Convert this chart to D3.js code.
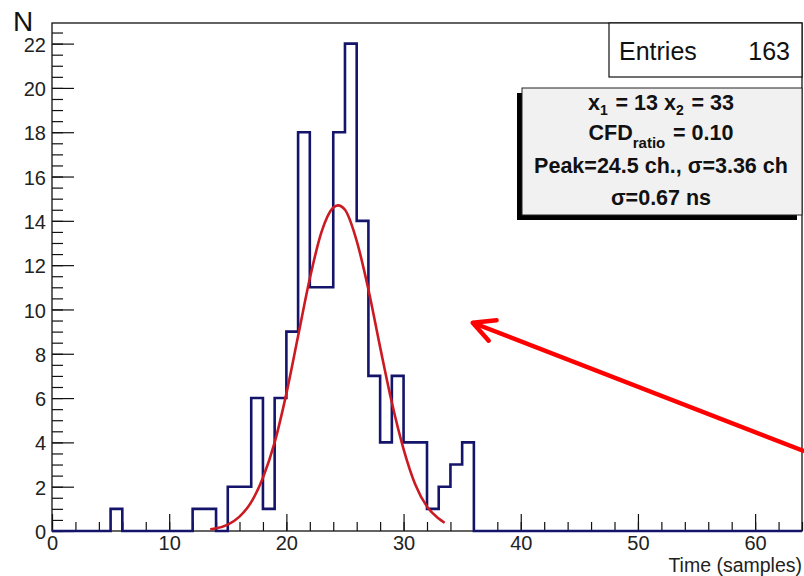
<!DOCTYPE html>
<html>
<head>
<meta charset="utf-8">
<script src="https://cdn.jsdelivr.net/npm/d3@7/dist/d3.min.js"></script>
<style>
  body { margin: 0; background: #fff; }
  svg { display: block; font-family: "Liberation Sans", Arial, Helvetica, sans-serif; }
</style>
</head>
<body>
<div id="chart"></div>
<script>
// histogram of CFD time, 1 sample per bin, 0..64
var binCounts = [0, 0, 0, 0, 0, 1, 0, 0, 0, 0,
                 0, 0, 1, 1, 0, 2, 2, 6, 1, 6,
                 9, 18, 11, 11, 18, 22, 14, 7, 4, 7,
                 4, 4, 1, 2, 3, 4, 0, 0, 0, 0,
                 0, 0, 0, 0, 0, 0, 0, 0, 0, 0,
                 0, 0, 0, 0, 0, 0, 0, 0, 0, 0,
                 0, 0, 0, 0];
var binStart = 0, binWidth = 1;

// gaussian fit curve
var fitX = [13.5, 14, 15, 16, 17, 18, 19, 20, 21, 22, 23, 24, 24.4, 25, 26, 27, 28, 29, 30, 31, 32, 33, 33.5];
var fitY = [0.08, 0.12, 0.29, 0.65, 1.3, 2.4, 4.0, 6.2, 8.8, 11.4, 13.5, 14.6, 14.7, 14.5, 13.1, 10.9, 8.3, 5.8, 3.7, 2.1, 1.1, 0.56, 0.37];

var xTicks = [0, 10, 20, 30, 40, 50, 60];
var yTicks = [0, 2, 4, 6, 8, 10, 12, 14, 16, 18, 20, 22];

var statsLines = ["x|1| = 13 x|2| = 33", "CFD|ratio| = 0.10", "Peak=24.5 ch., \u03c3=3.36 ch", "\u03c3=0.67 ns"];
var entries = 163;

// red annotation arrow, in data units (tail -> head)
var arrowTail = [64.2, 3.6], arrowHead = [35.9, 9.4];

var width = 804, height = 576;
var margin = {top: 23, right: 2, bottom: 45, left: 52};

var svg = d3.select("#chart").append("svg")
    .attr("width", width)
    .attr("height", height);

var x = d3.scaleLinear()
    .domain([0, 64])
    .range([margin.left, width - margin.right]);

var y = d3.scaleLinear()
    .domain([0, 22.93])
    .range([height - margin.bottom, margin.top]);

// minor ticks
svg.append("g")
    .attr("transform", "translate(0," + y(0) + ")")
    .call(d3.axisBottom(x).tickValues(d3.range(0, 64.1, 2)).tickSize(-9).tickSizeOuter(0).tickFormat(""))
    .call(g => g.select(".domain").remove());

svg.append("g")
    .attr("transform", "translate(" + x(0) + ",0)")
    .call(d3.axisLeft(y).tickValues(d3.range(0, 22.6, 0.5)).tickSize(-11).tickSizeOuter(0).tickFormat(""))
    .call(g => g.select(".domain").remove());

// major ticks + labels
var xAxis = svg.append("g")
    .attr("transform", "translate(0," + y(0) + ")")
    .call(d3.axisBottom(x).tickValues(xTicks).tickSize(-17).tickSizeOuter(0).tickPadding(5));
xAxis.select(".domain").remove();
xAxis.selectAll("text").style("font-size", "20px").style("font-family", "inherit").attr("fill", "#222");

var yAxis = svg.append("g")
    .attr("transform", "translate(" + x(0) + ",0)")
    .call(d3.axisLeft(y).tickValues(yTicks).tickSize(-22).tickSizeOuter(0).tickPadding(6));
yAxis.select(".domain").remove();
yAxis.selectAll("text").style("font-size", "20px").style("font-family", "inherit").attr("fill", "#222").attr("dy", "0.38em");

svg.selectAll(".tick line").attr("stroke", "#111").attr("stroke-width", 1.2);

// frame
svg.append("rect")
    .attr("x", x(0))
    .attr("y", y(22.93))
    .attr("width", x(64) - x(0))
    .attr("height", y(0) - y(22.93))
    .attr("fill", "none")
    .attr("stroke", "#111")
    .attr("stroke-width", 1.3);

// histogram outline
var steps = [];
binCounts.forEach(function (c, i) {
    var lo = binStart + i * binWidth;
    steps.push([lo, c], [lo + binWidth, c]);
});
steps.unshift([binStart, 0]);
steps.push([binStart + binCounts.length * binWidth, 0]);

svg.append("path")
    .datum(steps)
    .attr("fill", "none")
    .attr("stroke", "#14146b")
    .attr("stroke-width", 2.6)
    .attr("stroke-linejoin", "miter")
    .attr("d", d3.line().x(d => x(d[0])).y(d => y(d[1])));

// fit
svg.append("path")
    .datum(fitX.map((v, i) => [v, fitY[i]]))
    .attr("fill", "none")
    .attr("stroke", "#cc1a22")
    .attr("stroke-width", 2.6)
    .attr("d", d3.line().x(d => x(d[0])).y(d => y(d[1])).curve(d3.curveMonotoneX));

// axis titles
svg.append("text")
    .attr("x", 13)
    .attr("y", 31)
    .style("font-size", "28px")
    .attr("fill", "#111")
    .text("N");

svg.append("text")
    .attr("x", x(64))
    .attr("y", 572)
    .attr("text-anchor", "end")
    .style("font-size", "19.5px")
    .attr("fill", "#222")
    .text("Time (samples)");

// Entries box
svg.append("rect")
    .attr("x", 609).attr("y", 23)
    .attr("width", 193).attr("height", 54)
    .attr("fill", "#fff")
    .attr("stroke", "#111")
    .attr("stroke-width", 1.2);
svg.append("text")
    .attr("x", 619).attr("y", 60)
    .style("font-size", "25px")
    .attr("fill", "#111")
    .text("Entries");
svg.append("text")
    .attr("x", 790).attr("y", 60)
    .attr("text-anchor", "end")
    .style("font-size", "25px")
    .attr("fill", "#111")
    .text(entries);

// fit results box with shadow
svg.append("rect")
    .attr("x", 517).attr("y", 93)
    .attr("width", 280).attr("height", 127)
    .attr("fill", "#000");
svg.append("rect")
    .attr("x", 522).attr("y", 88)
    .attr("width", 280).attr("height", 127)
    .attr("fill", "#f1f1f1")
    .attr("stroke", "#222")
    .attr("stroke-width", 1);

var lineY = [110, 140, 173, 205];
statsLines.forEach(function (s, i) {
    var t = svg.append("text")
        .attr("x", 661)
        .attr("y", lineY[i])
        .attr("text-anchor", "middle")
        .style("font-size", "21.5px")
        .style("font-weight", "bold")
        .attr("fill", "#111");
    // |..| marks subscript parts
    s.split("|").forEach(function (part, k) {
        if (!part) return;
        if (k % 2 == 1) {
            var shift = part.length > 1 ? 8 : 5;
            t.append("tspan").attr("dy", shift).style("font-size", part.length > 1 ? "15px" : "14px").text(part);
            t.append("tspan").attr("dy", -shift).text("\u200a");
        } else {
            t.append("tspan").text(part);
        }
    });
});

// arrow
var ax1 = x(arrowTail[0]), ay1 = y(arrowTail[1]);
var ax2 = x(arrowHead[0]), ay2 = y(arrowHead[1]);
var ang = Math.atan2(ay1 - ay2, ax1 - ax2);
var headLen = 24, headAng = 27 * Math.PI / 180;

svg.append("line")
    .attr("x1", ax1).attr("y1", ay1)
    .attr("x2", ax2).attr("y2", ay2)
    .attr("stroke", "#f00")
    .attr("stroke-width", 4.5);
svg.append("path")
    .attr("d", "M" + (ax2 + headLen * Math.cos(ang - headAng)) + "," + (ay2 + headLen * Math.sin(ang - headAng)) +
               "L" + ax2 + "," + ay2 +
               "L" + (ax2 + headLen * Math.cos(ang + headAng)) + "," + (ay2 + headLen * Math.sin(ang + headAng)))
    .attr("fill", "none")
    .attr("stroke", "#f00")
    .attr("stroke-width", 4.5)
    .attr("stroke-linecap", "round")
    .attr("stroke-linejoin", "round");
</script>
</body>
</html>
